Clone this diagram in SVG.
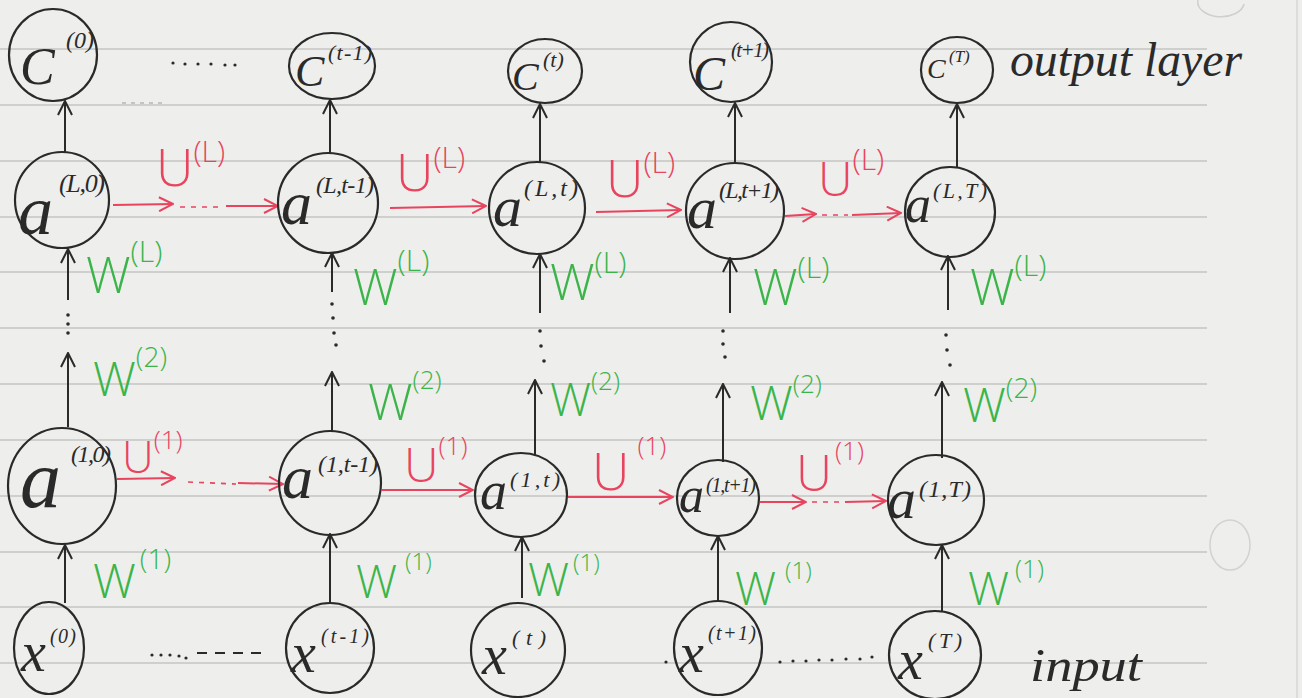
<svg xmlns="http://www.w3.org/2000/svg" width="1302" height="698" viewBox="0 0 1302 698">
<defs>
<style>
.bg{fill:#eeeeec}
.rule{stroke:#c4c4c4;stroke-width:1.5}
.node{fill:none;stroke:#2a2a2a;stroke-width:2.2}
.var{font-family:"Liberation Serif",serif;font-style:italic;fill:#2a2a2a}
.sup{font-family:"Liberation Serif",serif;font-style:italic;fill:#2a2a2a}
.blk{stroke:#2a2a2a;stroke-width:2;fill:none}
.red{stroke:#e8445e;stroke-width:2;fill:none}
.reddash{stroke:#e8445e;stroke-width:1.6;fill:none;stroke-dasharray:5 6}
.dot{fill:#2a2a2a}
.ul{font-family:"Open Sans","Liberation Sans",sans-serif;font-weight:300;fill:#e8445e}
.wl{font-family:"Open Sans","Liberation Sans",sans-serif;font-weight:300;fill:#3bb54a}
.note{font-family:"Liberation Serif",serif;font-style:italic;fill:#2a2a2a}
</style>
<marker id="hb" viewBox="0 0 16 16" refX="15" refY="8" markerWidth="16" markerHeight="16" orient="auto" markerUnits="userSpaceOnUse">
<path d="M1,1 L15,8 L1,15" fill="none" stroke="#2a2a2a" stroke-width="2"/>
</marker>
<marker id="hr" viewBox="0 0 16 16" refX="15" refY="8" markerWidth="16" markerHeight="16" orient="auto" markerUnits="userSpaceOnUse">
<path d="M1,1 L15,8 L1,15" fill="none" stroke="#e8445e" stroke-width="2"/>
</marker>
</defs>

<rect class="bg" x="0" y="0" width="1302" height="698"/>
<g id="paper">
<line class="rule" x1="0" y1="49" x2="1207" y2="49"/>
<line class="rule" x1="0" y1="105" x2="1207" y2="105"/>
<line class="rule" x1="0" y1="161" x2="1207" y2="161"/>
<line class="rule" x1="0" y1="217" x2="1207" y2="217"/>
<line class="rule" x1="0" y1="272" x2="1207" y2="272"/>
<line class="rule" x1="0" y1="328" x2="1207" y2="328"/>
<line class="rule" x1="0" y1="384" x2="1207" y2="384"/>
<line class="rule" x1="0" y1="440" x2="1207" y2="440"/>
<line class="rule" x1="0" y1="496" x2="1207" y2="496"/>
<line class="rule" x1="0" y1="552" x2="1207" y2="552"/>
<line class="rule" x1="0" y1="607" x2="1207" y2="607"/>
<line class="rule" x1="0" y1="663" x2="1207" y2="663"/>
<line x1="1297" y1="0" x2="1297" y2="698" stroke="#d6d6d6" stroke-width="1.5"/>
<path d="M1198,0 A22,14 0 0 0 1244,4" fill="none" stroke="#cfcfcf" stroke-width="1.5"/>
<ellipse cx="1230" cy="545" rx="20" ry="25" fill="none" stroke="#d2d2d2" stroke-width="1.5"/>
</g>

<g id="connectors">
<line class="blk" x1="65" y1="153" x2="65" y2="101" marker-end="url(#hb)"/>
<line class="blk" x1="330" y1="154" x2="330" y2="100" marker-end="url(#hb)"/>
<line class="blk" x1="540" y1="162" x2="540" y2="104" marker-end="url(#hb)"/>
<line class="blk" x1="735" y1="163" x2="735" y2="103" marker-end="url(#hb)"/>
<line class="blk" x1="957" y1="167" x2="957" y2="104" marker-end="url(#hb)"/>

<line class="blk" x1="68" y1="300" x2="68" y2="249" marker-end="url(#hb)"/>
<circle class="dot" cx="68" cy="315" r="1.8"/><circle class="dot" cx="68" cy="324" r="1.8"/><circle class="dot" cx="68" cy="333" r="1.8"/>
<line class="blk" x1="68" y1="427" x2="68" y2="353" marker-end="url(#hb)"/>

<line class="blk" x1="332" y1="292" x2="332" y2="253" marker-end="url(#hb)"/>
<circle class="dot" cx="332" cy="304" r="1.8"/><circle class="dot" cx="333" cy="318" r="1.8"/><circle class="dot" cx="334" cy="333" r="1.8"/><circle class="dot" cx="336" cy="345" r="1.8"/>
<line class="blk" x1="332" y1="432" x2="332" y2="372" marker-end="url(#hb)"/>

<line class="blk" x1="540" y1="313" x2="540" y2="254" marker-end="url(#hb)"/>
<circle class="dot" cx="540" cy="331" r="1.8"/><circle class="dot" cx="541" cy="346" r="1.8"/><circle class="dot" cx="544" cy="361" r="1.8"/>
<line class="blk" x1="535" y1="455" x2="535" y2="380" marker-end="url(#hb)"/>

<line class="blk" x1="730" y1="313" x2="730" y2="258" marker-end="url(#hb)"/>
<circle class="dot" cx="723" cy="331" r="1.8"/><circle class="dot" cx="723" cy="344" r="1.8"/><circle class="dot" cx="725" cy="357" r="1.8"/>
<line class="blk" x1="723" y1="462" x2="723" y2="384" marker-end="url(#hb)"/>

<line class="blk" x1="948" y1="310" x2="948" y2="256" marker-end="url(#hb)"/>
<circle class="dot" cx="946" cy="335" r="1.8"/><circle class="dot" cx="947" cy="350" r="1.8"/><circle class="dot" cx="950" cy="365" r="1.8"/>
<line class="blk" x1="942" y1="458" x2="942" y2="382" marker-end="url(#hb)"/>

<line class="blk" x1="65" y1="603" x2="65" y2="545" marker-end="url(#hb)"/>
<line class="blk" x1="330" y1="603" x2="330" y2="534" marker-end="url(#hb)"/>
<line class="blk" x1="522" y1="598" x2="522" y2="537" marker-end="url(#hb)"/>
<line class="blk" x1="718" y1="602" x2="718" y2="536" marker-end="url(#hb)"/>
<line class="blk" x1="942" y1="611" x2="942" y2="545" marker-end="url(#hb)"/>

<line class="red" x1="113" y1="205" x2="173" y2="204" marker-end="url(#hr)"/>
<line class="reddash" x1="180" y1="207" x2="218" y2="207"/>
<line class="red" x1="226" y1="206" x2="278" y2="206" marker-end="url(#hr)"/>
<line class="red" x1="390" y1="208" x2="486" y2="206" marker-end="url(#hr)"/>
<line class="red" x1="596" y1="212" x2="681" y2="210" marker-end="url(#hr)"/>
<line class="red" x1="785" y1="216" x2="816" y2="214" marker-end="url(#hr)"/>
<line class="reddash" x1="822" y1="215" x2="848" y2="215"/>
<line class="red" x1="852" y1="215" x2="901" y2="213" marker-end="url(#hr)"/>

<line class="red" x1="117" y1="479" x2="175" y2="478" marker-end="url(#hr)"/>
<line class="reddash" x1="188" y1="482" x2="236" y2="484"/>
<line class="red" x1="238" y1="483" x2="283" y2="484" marker-end="url(#hr)"/>
<line class="red" x1="382" y1="490" x2="473" y2="490" marker-end="url(#hr)"/>
<line class="red" x1="568" y1="497" x2="673" y2="497" marker-end="url(#hr)"/>
<line class="red" x1="760" y1="502" x2="806" y2="502" marker-end="url(#hr)"/>
<line class="reddash" x1="812" y1="502" x2="840" y2="502"/>
<line class="red" x1="845" y1="502" x2="886" y2="501" marker-end="url(#hr)"/>

<circle class="dot" cx="173" cy="63" r="1.6"/><circle class="dot" cx="185" cy="64" r="1.6"/><circle class="dot" cx="198" cy="64" r="1.6"/><circle class="dot" cx="211" cy="64" r="1.6"/><circle class="dot" cx="225" cy="65" r="1.6"/><circle class="dot" cx="235" cy="65" r="1.6"/>
<line x1="122" y1="103" x2="165" y2="103" stroke="#9a9a9a" stroke-width="1.2" stroke-dasharray="4 5"/>
<circle class="dot" cx="152" cy="655" r="1.6"/><circle class="dot" cx="161" cy="655" r="1.6"/><circle class="dot" cx="170" cy="655" r="1.6"/><circle class="dot" cx="179" cy="656" r="1.6"/><circle class="dot" cx="186" cy="658" r="1.6"/>
<line class="blk" x1="197" y1="653" x2="262" y2="653" stroke-dasharray="10 8" stroke-width="1.8"/>
<circle class="dot" cx="666" cy="662" r="1.6"/>
<circle class="dot" cx="780" cy="662" r="1.6"/><circle class="dot" cx="793" cy="661" r="1.6"/><circle class="dot" cx="806" cy="661" r="1.6"/><circle class="dot" cx="819" cy="660" r="1.6"/><circle class="dot" cx="832" cy="660" r="1.6"/><circle class="dot" cx="846" cy="659" r="1.6"/><circle class="dot" cx="860" cy="659" r="1.6"/><circle class="dot" cx="872" cy="657" r="1.6"/>
</g>

<g id="C0"><ellipse class="node" cx="53" cy="55" rx="44" ry="46"/><text class="var" x="20" y="84" font-size="52">C</text><text class="sup" x="66" y="48" font-size="24" textLength="28">(0)</text></g>
<g id="Ct-1"><ellipse class="node" cx="332" cy="66" rx="43" ry="33"/><text class="var" x="295" y="86" font-size="44">C</text><text class="sup" x="328" y="60" font-size="22" textLength="44">(t-1)</text></g>
<g id="Ct"><ellipse class="node" cx="545" cy="71" rx="37" ry="32"/><text class="var" x="512" y="90" font-size="40">C</text><text class="sup" x="543" y="67" font-size="22">(t)</text></g>
<g id="Ct+1"><ellipse class="node" cx="731" cy="62" rx="41" ry="40"/><text class="var" x="693" y="90" font-size="48">C</text><text class="sup" x="731" y="57" font-size="21" textLength="38">(t+1)</text></g>
<g id="CT"><ellipse class="node" cx="957" cy="70" rx="36" ry="33"/><text class="var" x="927" y="78" font-size="28">C</text><text class="sup" x="949" y="62" font-size="17">(T)</text></g>

<g id="aL0"><ellipse class="node" cx="62" cy="200" rx="47" ry="48"/><text class="var" x="18" y="234" font-size="70">a</text><text class="sup" x="59" y="192" font-size="26" textLength="46">(L,0)</text></g>
<g id="aLt-1"><ellipse class="node" cx="328" cy="203" rx="50" ry="50"/><text class="var" x="281" y="224" font-size="62">a</text><text class="sup" x="316" y="193" font-size="24" textLength="58">(L,t-1)</text></g>
<g id="aLt"><ellipse class="node" cx="537" cy="208" rx="48" ry="46"/><text class="var" x="493" y="226" font-size="58">a</text><text class="sup" x="524" y="196" font-size="24" textLength="54">(L,t)</text></g>
<g id="aLt+1"><ellipse class="node" cx="735" cy="211" rx="49" ry="48"/><text class="var" x="687" y="228" font-size="60">a</text><text class="sup" x="719" y="198" font-size="24" textLength="60">(L,t+1)</text></g>
<g id="aLT"><ellipse class="node" cx="950" cy="212" rx="45" ry="45"/><text class="var" x="905" y="222" font-size="52">a</text><text class="sup" x="933" y="198" font-size="22" textLength="54">(L,T)</text></g>

<g id="a10"><ellipse class="node" cx="62" cy="486" rx="54" ry="58"/><text class="var" x="20" y="507" font-size="82">a</text><text class="sup" x="71" y="462" font-size="24" textLength="40">(1,0)</text></g>
<g id="a1t-1"><ellipse class="node" cx="330" cy="483" rx="51" ry="52"/><text class="var" x="282" y="498" font-size="62">a</text><text class="sup" x="318" y="472" font-size="24" textLength="60">(1,t-1)</text></g>
<g id="a1t"><ellipse class="node" cx="521" cy="495" rx="46" ry="42"/><text class="var" x="480" y="509" font-size="54">a</text><text class="sup" x="510" y="487" font-size="22" textLength="50">(1,t)</text></g>
<g id="a1t+1"><ellipse class="node" cx="718" cy="498" rx="41" ry="38"/><text class="var" x="679" y="512" font-size="50">a</text><text class="sup" x="706" y="492" font-size="20" textLength="50">(1,t+1)</text></g>
<g id="a1T"><ellipse class="node" cx="936" cy="500" rx="48" ry="45"/><text class="var" x="887" y="518" font-size="58">a</text><text class="sup" x="919" y="497" font-size="24" textLength="52">(1,T)</text></g>

<g id="x0"><ellipse class="node" cx="49" cy="648" rx="35" ry="46"/><text class="var" x="21" y="671" font-size="56">x</text><text class="sup" x="50" y="643" font-size="20" textLength="26">(0)</text></g>
<g id="xt-1"><ellipse class="node" cx="330" cy="648" rx="44" ry="45"/><text class="var" x="291" y="672" font-size="56">x</text><text class="sup" x="321" y="643" font-size="20" textLength="48">(t-1)</text></g>
<g id="xt"><ellipse class="node" cx="518" cy="650" rx="47" ry="47"/><text class="var" x="482" y="674" font-size="56">x</text><text class="sup" x="512" y="645" font-size="22" textLength="34">(t)</text></g>
<g id="xt+1"><ellipse class="node" cx="718" cy="648" rx="44" ry="47"/><text class="var" x="679" y="672" font-size="56">x</text><text class="sup" x="708" y="640" font-size="20" textLength="48">(t+1)</text></g>
<g id="xT"><ellipse class="node" cx="935" cy="655" rx="46" ry="44"/><text class="var" x="898" y="679" font-size="56">x</text><text class="sup" x="928" y="648" font-size="22" textLength="34">(T)</text></g>

<g id="labels-U">
<text class="ul" x="156" y="186" font-size="52">U<tspan font-size="30" dy="-24">(L)</tspan></text>
<text class="ul" x="396" y="191" font-size="52">U<tspan font-size="30" dy="-23">(L)</tspan></text>
<text class="ul" x="606" y="197" font-size="52">U<tspan font-size="30" dy="-24">(L)</tspan></text>
<text class="ul" x="818" y="196" font-size="48">U<tspan font-size="30" dy="-26">(L)</tspan></text>
<text class="ul" x="122" y="473" font-size="44">U<tspan font-size="26" dy="-24">(1)</tspan></text>
<text class="ul" x="404" y="482" font-size="48">U<tspan font-size="26" dy="-27">(1)</tspan></text>
<text class="ul" x="592" y="490" font-size="52">U<tspan font-size="26" dy="-35" dx="8">(1)</tspan></text>
<text class="ul" x="796" y="491" font-size="50">U<tspan font-size="26" dy="-31" dx="3">(1)</tspan></text>
</g>

<g id="labels-W">
<text class="wl" x="86" y="293" font-size="50">W<tspan font-size="30" dy="-31">(L)</tspan></text>
<text class="wl" x="353" y="305" font-size="50">W<tspan font-size="30" dy="-34">(L)</tspan></text>
<text class="wl" x="550" y="300" font-size="50">W<tspan font-size="30" dy="-27">(L)</tspan></text>
<text class="wl" x="753" y="305" font-size="50">W<tspan font-size="30" dy="-27">(L)</tspan></text>
<text class="wl" x="970" y="305" font-size="50">W<tspan font-size="30" dy="-29">(L)</tspan></text>

<text class="wl" x="93" y="396" font-size="48">W<tspan font-size="28" dy="-29">(2)</tspan></text>
<text class="wl" x="368" y="420" font-size="50">W<tspan font-size="26" dy="-31">(2)</tspan></text>
<text class="wl" x="550" y="416" font-size="46">W<tspan font-size="26" dy="-26">(2)</tspan></text>
<text class="wl" x="750" y="420" font-size="48">W<tspan font-size="26" dy="-27">(2)</tspan></text>
<text class="wl" x="963" y="422" font-size="48">W<tspan font-size="28" dy="-24">(2)</tspan></text>

<text class="wl" x="93" y="598" font-size="48">W<tspan font-size="28" dy="-29" dx="4">(1)</tspan></text>
<text class="wl" x="356" y="598" font-size="46">W<tspan font-size="24" dy="-28" dx="8">(1)</tspan></text>
<text class="wl" x="528" y="596" font-size="46">W<tspan font-size="24" dy="-25" dx="4">(1)</tspan></text>
<text class="wl" x="735" y="605" font-size="46">W<tspan font-size="24" dy="-26" dx="9">(1)</tspan></text>
<text class="wl" x="968" y="605" font-size="46">W<tspan font-size="26" dy="-27" dx="6">(1)</tspan></text>
</g>

<g id="annotations">
<text class="note" x="1010" y="76" font-size="48" textLength="232" lengthAdjust="spacingAndGlyphs">output layer</text>
<text class="note" x="1030" y="681" font-size="46" textLength="112" lengthAdjust="spacingAndGlyphs">input</text>
</g>
</svg>
